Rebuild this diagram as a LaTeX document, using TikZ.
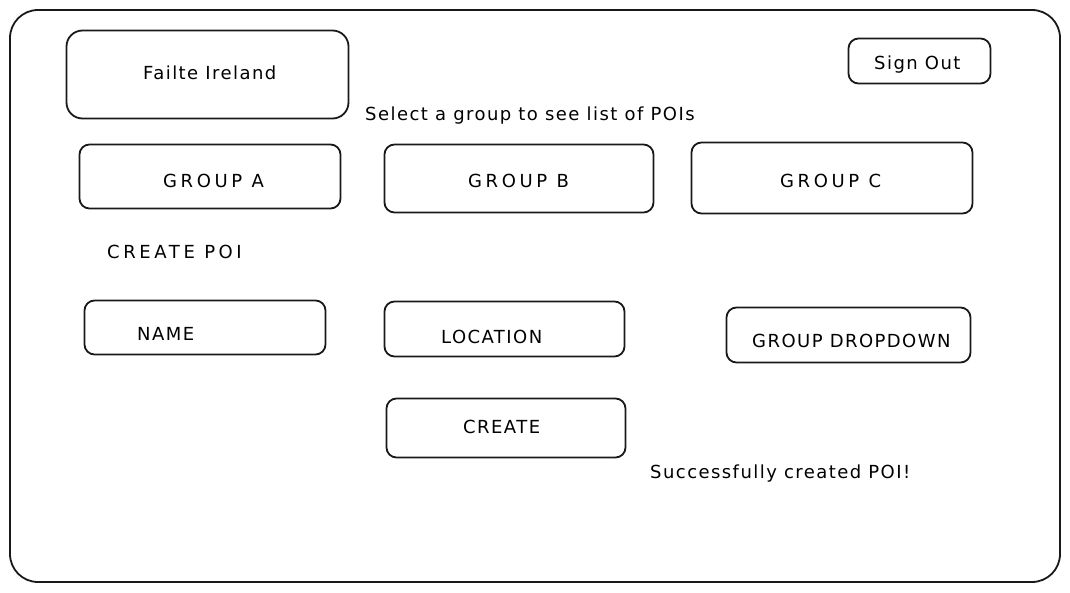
\documentclass[tikz,border=0pt]{standalone}
\usepackage{fontspec}
\setmainfont{DejaVu Sans}[LetterSpace=8]
\newfontfamily\widefont{DejaVu Sans}[LetterSpace=20]
\begin{document}
\begin{tikzpicture}[x=1pt,y=-1pt,
  box/.style={draw=black!90, line width=1.8pt, rounded corners=10pt, inner sep=0pt},
  txt/.style={inner sep=0pt, anchor=base west, font=\fontsize{18}{21}\selectfont},
  widetxt/.style={txt, font=\widefont\fontsize{18}{21}\selectfont}]
\useasboundingbox (0,0) rectangle (1070,593);
\node[box, rounded corners=28pt, minimum width=1050pt, minimum height=572pt] (frame) at (535,296) {};
\node[box, rounded corners=16pt, minimum width=282pt, minimum height=88pt] (fi) at (207.5,74.5) {};
\node[txt] (fit) at (143,80) {Failte Ireland};
\node[box, minimum width=142pt, minimum height=45pt] (signout) at (919.5,61) {};
\node[txt] (signoutt) at (874,70) {Sign Out};
\node[txt] (select) at (365,121) {Select a group to see list of POIs};
\node[box, minimum width=261pt, minimum height=64pt] (ga) at (210,176.5) {};
\node[widetxt] (gat) at (163,188) {GROUP A};
\node[box, minimum width=269pt, minimum height=68pt] (gb) at (519,178.5) {};
\node[widetxt] (gbt) at (468,188) {GROUP B};
\node[box, minimum width=281pt, minimum height=71pt] (gc) at (832,178) {};
\node[widetxt] (gct) at (780,188) {GROUP C};
\node[widetxt] (cpoi) at (107,259) {CREATE POI};
\node[box, minimum width=241pt, minimum height=54pt] (name) at (205,327.5) {};
\node[txt] (namet) at (137,341) {NAME};
\node[box, minimum width=240pt, minimum height=55pt] (loc) at (504.5,329) {};
\node[txt] (loct) at (441,343) {LOCATION};
\node[box, minimum width=244pt, minimum height=55pt] (gdd) at (848.5,335) {};
\node[txt] (gddt) at (752,347) {GROUP DROPDOWN};
\node[box, minimum width=239pt, minimum height=59pt] (create) at (506,428) {};
\node[txt] (createt) at (463,433) {CREATE};
\node[txt] (success) at (650,478) {Successfully created POI!};
\end{tikzpicture}
\end{document}
